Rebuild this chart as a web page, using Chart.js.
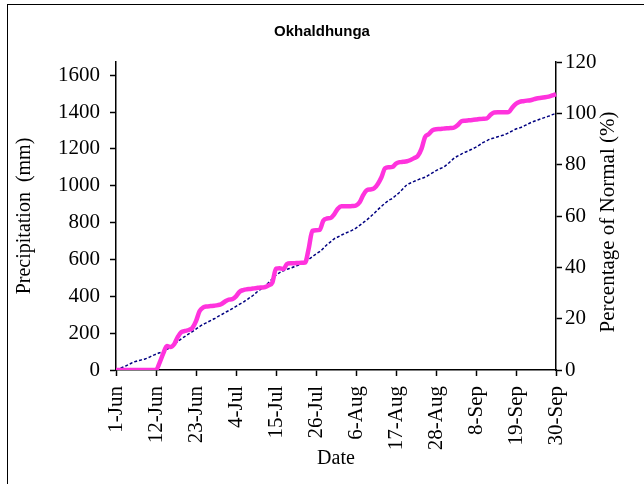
<!DOCTYPE html>
<html lang="en">
<head>
    <meta charset="UTF-8">
    <title>Okhaldhunga</title>
    <script src="https://cdn.jsdelivr.net/npm/chart.js"></script>
    <style>
        body { margin: 0; background: #fff; overflow: hidden; }
        #frame { position: absolute; left: 7px; top: 4px; width: 700px; height: 600px; border: 1px solid #000; }
        #myChart { position: absolute; left: 0; top: 0; }
    </style>
</head>
<body>
    <div id="frame"></div>
    <canvas id="myChart" width="644" height="484"></canvas>

    <script>
        // categories: 1-Jun .. 30-Sep (122 days)
        const months = ['Jun', 'Jul', 'Aug', 'Sep'];
        const monthDays = [30, 31, 31, 30];
        const dates = [];
        months.forEach((m, i) => {
            for (let d = 1; d <= monthDays[i]; d++) dates.push(d + '-' + m);
        });

        const tickLabels = ['1-Jun', '12-Jun', '23-Jun', '4-Jul', '15-Jul', '26-Jul',
            '6-Aug', '17-Aug', '28-Aug', '8-Sep', '19-Sep', '30-Sep'];

        // cumulative observed rainfall (mm)
        const actual = [
            0, 0, 0, 0, 0, 0, 0, 0, 0, 0,
            0, 0, 40, 90, 130, 125, 140, 180, 206, 212,
            217, 228, 265, 320, 340, 345, 347, 349, 352, 358,
            372, 382, 385, 400, 425, 434, 438, 440, 443, 446,
            448, 450, 460, 475, 550, 552, 548, 575, 580, 580,
            581, 582, 583, 660, 755, 758, 760, 810, 822, 825,
            845, 875, 889, 889, 889, 890, 893, 910, 950, 976,
            980, 986, 1010, 1046, 1095, 1100, 1102, 1120, 1128, 1130,
            1133, 1140, 1150, 1162, 1200, 1265, 1280, 1300, 1307, 1308,
            1310, 1312, 1313, 1316, 1330, 1350, 1353, 1355, 1357, 1359,
            1362, 1364, 1366, 1385, 1398, 1399, 1399, 1399, 1400, 1425,
            1445, 1455, 1459, 1462, 1464, 1470, 1475, 1477, 1480, 1484,
            1490, 1497
        ];

        // cumulative normal rainfall (mm)
        const normal = [
            0, 8, 16, 25, 35, 44, 50, 55, 60, 68,
            78, 86, 94, 100, 112, 125, 140, 155, 170, 183,
            196, 208, 222, 236, 248, 258, 268, 278, 290, 300,
            312, 322, 333, 345, 357, 368, 382, 395, 410, 427,
            442, 458, 475, 495, 515, 528, 538, 546, 553, 560,
            568, 576, 585, 600, 615, 630, 642, 660, 680, 695,
            712, 722, 732, 742, 750, 759, 770, 785, 800, 815,
            832, 850, 870, 888, 905, 920, 932, 948, 965, 985,
            1005, 1015, 1024, 1032, 1040, 1046, 1058, 1070, 1082, 1092,
            1100, 1115, 1132, 1150, 1162, 1172, 1182, 1190, 1200, 1210,
            1222, 1235, 1245, 1254, 1260, 1266, 1272, 1278, 1288, 1298,
            1308, 1314, 1322, 1332, 1342, 1350, 1357, 1364, 1371, 1378,
            1386, 1393
        ];

        const serif = "'Times New Roman', 'Liberation Serif', serif";

        // right axis: percentage of normal seasonal total
        const pctMax = 120;
        const mmMax = normal[normal.length - 1] * pctMax / 100;

        const rightTitle = {
            id: 'rightTitle',
            afterDraw(chart) {
                const { ctx, chartArea } = chart;
                ctx.save();
                ctx.translate(chartArea.right + 52, (chartArea.top + chartArea.bottom) / 2 + 6);
                ctx.rotate(-Math.PI / 2);
                ctx.font = '21px ' + serif;
                ctx.fillStyle = '#000';
                ctx.textAlign = 'center';
                ctx.textBaseline = 'middle';
                ctx.fillText('Percentage of Normal (%)', 0, 0);
                ctx.restore();
            }
        };

        const ctx = document.getElementById('myChart').getContext('2d');
        new Chart(ctx, {
            type: 'line',
            data: {
                labels: dates,
                datasets: [
                    {
                        label: 'Actual',
                        data: actual,
                        borderColor: '#ff33dd',
                        borderWidth: 4.5,
                        pointRadius: 0,
                        cubicInterpolationMode: 'monotone',
                        yAxisID: 'y'
                    },
                    {
                        label: 'Normal',
                        data: normal,
                        borderColor: '#000080',
                        borderWidth: 1.5,
                        borderDash: [3, 2],
                        pointRadius: 0,
                        cubicInterpolationMode: 'monotone',
                        yAxisID: 'y'
                    }
                ]
            },
            options: {
                responsive: false,
                animation: false,
                layout: { padding: 0 },
                scales: {
                    x: {
                        offset: false,
                        afterBuildTicks: axis => {
                            axis.ticks = axis.ticks.filter(t => t.value % 11 === 0);
                        },
                        afterFit: scale => { scale.height = 114; },
                        ticks: {
                            autoSkip: false,
                            maxRotation: 90,
                            minRotation: 90,
                            padding: 10,
                            color: '#000',
                            font: { family: serif, size: 21 },
                            callback: (v, i) => tickLabels[i]
                        },
                        grid: { drawOnChartArea: false, tickLength: 6, tickColor: '#000', tickWidth: 1.5 },
                        border: { color: '#000', width: 1.5 },
                        title: {
                            display: true,
                            text: 'Date',
                            color: '#000',
                            font: { family: serif, size: 20 },
                            padding: { top: 0, bottom: 13 }
                        }
                    },
                    y: {
                        position: 'left',
                        min: 0,
                        max: mmMax,
                        afterBuildTicks: axis => {
                            axis.ticks = axis.ticks.filter(t => t.value % 200 === 0);
                        },
                        afterFit: scale => { scale.width = 116; },
                        ticks: {
                            stepSize: 200,
                            includeBounds: false,
                            padding: 10,
                            color: '#000',
                            font: { family: serif, size: 21 },
                            callback: v => String(v)
                        },
                        grid: { drawOnChartArea: false, tickLength: 6, tickColor: '#000', tickWidth: 1.5 },
                        border: { color: '#000', width: 1.5 },
                        title: {
                            display: true,
                            text: 'Precipitation  (mm)',
                            color: '#000',
                            font: { family: serif, size: 20 },
                            padding: { top: 13, bottom: 0 }
                        }
                    },
                    y2: {
                        position: 'right',
                        min: 0,
                        max: pctMax,
                        afterFit: scale => { scale.width = 88; },
                        ticks: {
                            stepSize: 20,
                            padding: 3,
                            color: '#000',
                            font: { family: serif, size: 21 }
                        },
                        grid: { drawOnChartArea: false, tickLength: 6, tickColor: '#000', tickWidth: 1.5 },
                        border: { color: '#000', width: 1.5 }
                    }
                },
                plugins: {
                    legend: { display: false },
                    tooltip: { enabled: false },
                    title: {
                        display: true,
                        text: 'Okhaldhunga',
                        color: '#000',
                        font: { family: "Arial, 'Liberation Sans', sans-serif", size: 15, weight: 'bold' },
                        padding: { top: 23, bottom: 21 }
                    }
                }
            },
            plugins: [rightTitle]
        });
    </script>
</body>
</html>
